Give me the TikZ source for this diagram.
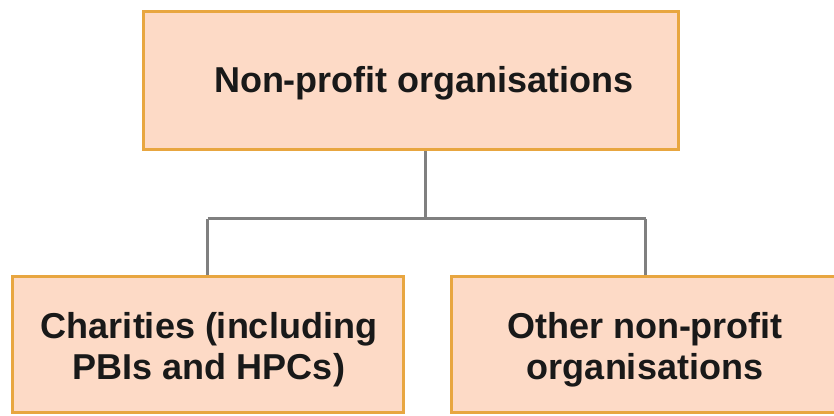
\documentclass[tikz,border=0pt]{standalone}
\usepackage{fontspec}
\setmainfont{Liberation Sans}
\definecolor{boxfill}{HTML}{FDDAC6}
\definecolor{boxedge}{HTML}{E8A640}
\definecolor{linkgray}{HTML}{808080}
\begin{document}
\begin{tikzpicture}[x=1pt,y=1pt,
  orgbox/.style={draw=boxedge, fill=boxfill, line width=3pt, inner sep=0pt},
  orglabel/.style={align=center, font=\fontsize{36}{41}\selectfont\bfseries, text=black!90},
  link/.style={draw=linkgray, line width=3pt}]
\useasboundingbox (0,0) rectangle (834,415);
% top-level box
\node[orgbox, minimum width=535pt, minimum height=138pt] (top) at (410.5,334) {};
\node[orglabel] (toplabel) at (424,332) {Non-profit organisations};
% the two categories below it
\node[orgbox, minimum width=391pt, minimum height=136pt] (charity) at (207.5,71) {};
\node[orgbox, minimum width=389pt, minimum height=136pt] (other) at (645.5,71) {};
\node[orglabel] (charitylabel) at (209,65) {Charities (including\\PBIs and HPCs)};
\node[orglabel] (otherlabel) at (645,65) {Other non-profit\\organisations};
% tree connector
\coordinate (split) at (425,196);
\coordinate (lefttop) at (207.5,196);
\coordinate (righttop) at (645.5,196);
\draw[link] (top.south -| split) -- (split);
\draw[link] (lefttop) -- (righttop);
\draw[link] (lefttop) -- (lefttop |- charity.north);
\draw[link] (righttop) -- (righttop |- other.north);
\end{tikzpicture}
\end{document}
